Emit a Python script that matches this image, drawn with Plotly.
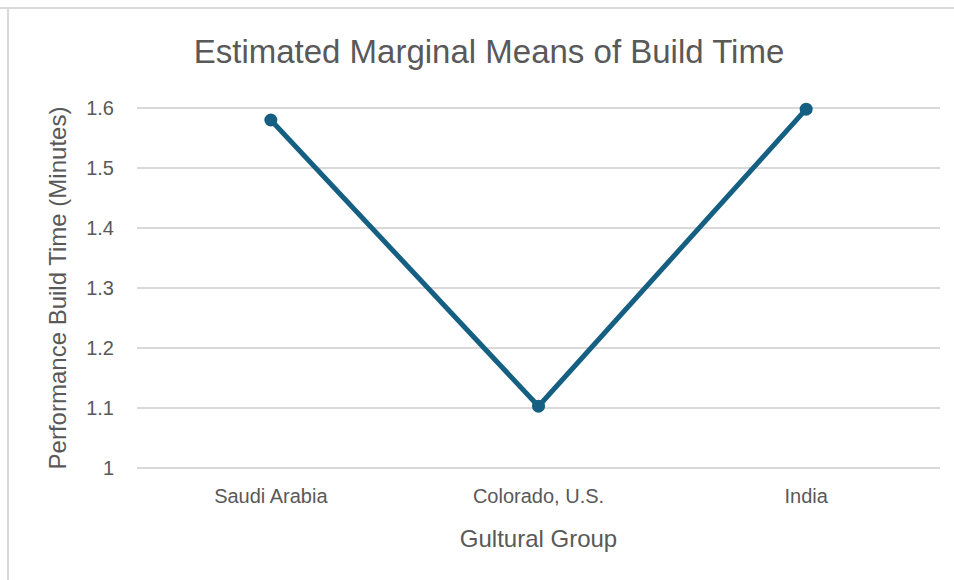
import plotly.graph_objects as go

categories = ["Saudi Arabia", "Colorado, U.S.", "India"]
build_time = [1.58, 1.103, 1.598]
y_ticks = [1.0, 1.1, 1.2, 1.3, 1.4, 1.5, 1.6]
y_tick_labels = ["1", "1.1", "1.2", "1.3", "1.4", "1.5", "1.6"]

FONT = "Liberation Sans, Arial, sans-serif"
GRAY = "#595959"
LINE = "#156082"

fig = go.Figure()
fig.add_trace(go.Scatter(
    x=categories, y=build_time, mode="lines+markers",
    line=dict(color=LINE, width=5),
    marker=dict(color=LINE, size=13),
    cliponaxis=False, showlegend=False,
))

W, H = 954, 580
ml, mr, mt, mb = 137, 14, 105, 109
pw, ph = W - ml - mr, H - mt - mb

def px_x(x):
    return (x - ml) / pw

def px_y(y):
    return (H - mb - y) / ph

fig.update_layout(
    width=W, height=H,
    margin=dict(l=ml, r=mr, t=mt, b=mb),
    paper_bgcolor="white", plot_bgcolor="white",
    title=dict(text="Estimated Marginal Means of Build Time",
               x=489 / W, xanchor="center", y=1 - 51 / H, yanchor="middle",
               font=dict(family=FONT, size=33, color=GRAY)),
    xaxis=dict(
        type="category", range=[-0.5, 2.5], showgrid=False, zeroline=False,
        showline=False, ticks="", ticklabelstandoff=11,
        tickfont=dict(family=FONT, size=20, color=GRAY),
        title=dict(text="Gultural Group", font=dict(family=FONT, size=24, color=GRAY), standoff=24),
    ),
    yaxis=dict(
        range=[0.995, 1.605], tickvals=y_ticks, ticktext=y_tick_labels,
        showgrid=True, gridcolor="#d9d9d9", gridwidth=1.5,
        zeroline=False, showline=False, ticks="", ticklabelstandoff=22,
        tickfont=dict(family=FONT, size=20, color=GRAY),
        title=dict(text="Performance Build Time (Minutes)",
                   font=dict(family=FONT, size=24, color=GRAY),
                   standoff=12),
    ),
    shapes=[
        dict(type="line", xref="paper", yref="paper",
             x0=px_x(0), x1=px_x(W), y0=px_y(8), y1=px_y(8),
             line=dict(color="#d9d9d9", width=2), layer="below"),
        dict(type="line", xref="paper", yref="paper",
             x0=px_x(8), x1=px_x(8), y0=px_y(8), y1=px_y(H),
             line=dict(color="#d9d9d9", width=2), layer="below"),
    ],
)

fig.write_html("out.html", config={"displayModeBar": False},
               post_script="document.body.style.margin='0';")
